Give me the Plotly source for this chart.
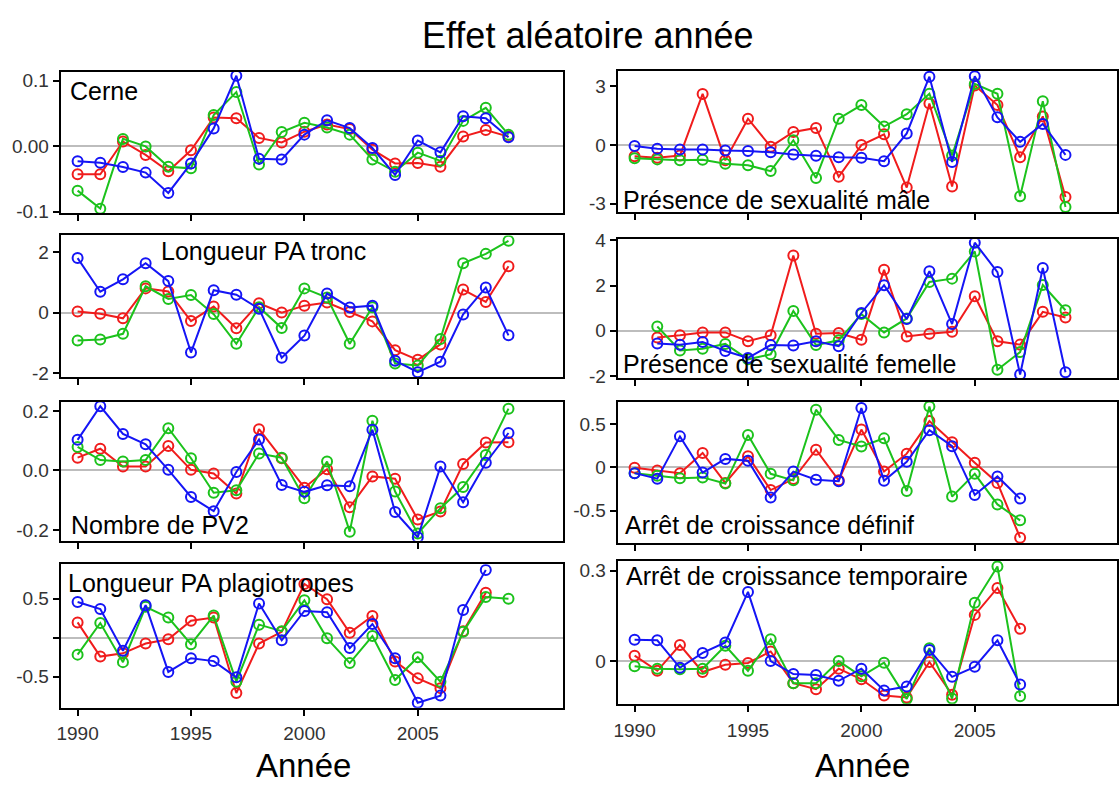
import plotly.graph_objects as go
from plotly.subplots import make_subplots

# figure size in px
W, H = 1119, 787

years = list(range(1990, 2010))

# Cerne
cerne_r = [-0.043, -0.043, 0.007, -0.0135, -0.0385, -0.0065, 0.0435, 0.0425, 0.0125, 0.0055,
           0.022, 0.033, 0.026, -0.0055, -0.0265, -0.026, -0.0315, 0.0145, 0.0245, 0.0145]
cerne_g = [-0.068, -0.0955, 0.011, -0.0005, -0.0315, -0.034, 0.0475, 0.0825, -0.028, 0.0215,
           0.0355, 0.0285, 0.0175, -0.0205, -0.039, -0.010, -0.0225, 0.0385, 0.0585, 0.0175]
cerne_b = [-0.023, -0.0255, -0.032, -0.0405, -0.0715, -0.0265, 0.027, 0.1075, -0.0195, -0.0205,
           0.0175, 0.0395, 0.0275, -0.003, -0.044, 0.0085, -0.0095, 0.0455, 0.0425, 0.0135]

# Présence de sexualité mâle
male_r = [-0.57, -0.65, -0.53, 2.62, -0.78, 1.35, -0.08, 0.67, 0.88, -1.62,
          0.0, 0.55, -2.17, 2.13, -2.12, 3.05, 2.05, -0.62, 1.47, -2.65]
male_g = [-0.67, -0.73, -0.77, -0.75, -0.95, -1.03, -1.33, 0.25, -1.68, 1.35,
          2.05, 0.95, 1.58, 2.63, -0.53, 3.13, 2.63, -2.62, 2.25, -3.17]
male_b = [-0.05, -0.18, -0.22, -0.22, -0.28, -0.3, -0.37, -0.48, -0.55, -0.62,
          -0.65, -0.82, 0.6, 3.5, -0.87, 3.53, 1.42, 0.17, 1.08, -0.5]

# Longueur PA tronc
tronc_r = [0.04, -0.04, -0.19, 0.8, 0.7, -0.28, 0.2, -0.52, 0.31, 0.0,
           0.23, 0.33, 0.02, -0.29, -1.24, -1.56, -1.05, 0.76, 0.35, 1.53]
tronc_g = [-0.92, -0.89, -0.7, 0.87, 0.45, 0.58, -0.05, -1.03, 0.18, -0.51,
           0.8, 0.5, -1.03, 0.18, -1.68, -1.75, -0.87, 1.63, 1.94, 2.37]
tronc_b = [1.8, 0.69, 1.1, 1.63, 1.04, -1.32, 0.74, 0.59, 0.13, -1.49,
           -0.76, 0.63, 0.17, 0.23, -1.59, -1.97, -1.62, -0.06, 0.83, -0.75]

# Présence de sexualité femelle
femelle_r = [None, -0.29, -0.2, -0.07, -0.07, -0.46, -0.2, 3.33, -0.13, -0.1,
             -0.39, 2.7, -0.25, -0.13, -0.04, 1.53, -0.46, -0.61, 0.84, 0.59]
femelle_g = [None, 0.19, -0.87, -0.79, -0.58, -1.26, -1.04, 0.88, -0.63, -0.42,
             0.74, -0.07, 0.55, 2.16, 2.31, 3.51, -1.72, -0.94, 2.03, 0.91]
femelle_b = [None, -0.56, -0.62, -0.49, -0.89, -1.2, -0.63, -0.65, -0.46, -0.68,
             0.79, 2.02, 0.52, 2.64, 0.3, 3.9, 2.6, -1.93, 2.78, -1.83]

# Nombre de PV2
pv2_r = [0.043, 0.073, 0.013, 0.013, 0.082, 0.002, -0.01, -0.078, 0.139, 0.041,
         -0.058, 0.004, -0.124, -0.02, -0.028, -0.165, -0.138, 0.022, 0.094, 0.095]
pv2_g = [0.079, 0.035, 0.03, 0.035, 0.142, 0.041, -0.075, -0.067, 0.057, 0.043,
         -0.094, 0.03, -0.206, 0.167, -0.071, -0.212, -0.127, -0.056, 0.052, 0.208]
pv2_b = [0.103, 0.216, 0.123, 0.088, 0.002, -0.089, -0.137, -0.005, 0.104, -0.049,
         -0.072, -0.05, -0.053, 0.137, -0.14, -0.225, 0.013, -0.107, 0.026, 0.126]

# Arrêt de croissance définif
definif_r = [-0.004, -0.037, -0.067, 0.165, -0.18, 0.127, -0.262, -0.135, 0.202, -0.15,
             0.434, -0.049, 0.157, 0.532, 0.288, 0.052, -0.18, -0.809, None, None]
definif_g = [-0.067, -0.097, -0.127, -0.116, -0.187, 0.371, -0.075, -0.15, 0.663, 0.315,
             0.24, 0.333, -0.273, 0.7, -0.337, -0.075, -0.427, -0.61, None, None]
definif_b = [-0.067, -0.131, 0.356, -0.06, 0.097, 0.075, -0.348, -0.049, -0.142, -0.161,
             0.682, -0.154, 0.064, 0.427, 0.243, -0.318, -0.105, -0.36, None, None]

# Longueur PA plagiotropes
plagio_r = [0.196, -0.242, -0.2, -0.075, -0.021, 0.217, 0.258, -0.708, -0.075, 0.075,
            0.688, 0.492, 0.063, 0.279, -0.304, -0.521, -0.646, 0.083, 0.575, None]
plagio_g = [-0.217, 0.188, -0.313, 0.396, 0.258, -0.083, 0.283, -0.563, 0.167, 0.083,
            0.479, -0.008, -0.325, 0.021, -0.542, -0.25, -0.563, 0.075, 0.521, 0.5]
plagio_b = [0.458, 0.367, -0.167, 0.417, -0.438, -0.263, -0.3, -0.508, 0.438, -0.033,
            0.342, 0.325, -0.133, 0.175, -0.263, -0.833, -0.742, 0.354, 0.867, None]

# Arrêt de croissance temporaire
temp_r = [0.019, -0.031, 0.054, -0.035, -0.011, -0.005, 0.033, -0.072, -0.092, -0.024,
          -0.059, -0.113, -0.119, -0.002, -0.11, 0.154, 0.243, 0.108, None, None]
temp_g = [-0.016, -0.024, -0.026, -0.024, 0.052, -0.031, 0.073, -0.072, -0.072, 0.001,
          -0.049, -0.004, -0.124, 0.044, -0.123, 0.194, 0.314, -0.115, None, None]
temp_b = [0.072, 0.07, -0.021, 0.028, 0.063, 0.23, 0.001, -0.042, -0.045, -0.064,
          -0.024, -0.096, -0.083, 0.038, -0.051, -0.018, 0.07, -0.076, None, None]

xticks = [1990, 1995, 2000, 2005]

# label, series, y range, y ticks, y tick text, box (left, top, right, bottom px), label pos (x, y px, anchor)
panels = [
    ("Cerne", (cerne_r, cerne_g, cerne_b), [-0.1025, 0.1134], [-0.1, 0, 0.1], ["-0.1", "0.00", "0.1"],
     (57, 64.3, 562, 209), (64, 84, "left")),
    ("Présence de sexualité mâle", (male_r, male_g, male_b), [-3.42, 3.8], [-3, 0, 3], ["-3", "0", "3"],
     (617, 63.3, 1119, 207.7), (620, 195, "left")),
    ("Longueur PA tronc", (tronc_r, tronc_g, tronc_b), [-2.13, 2.55], [-2, 0, 2], ["-2", "0", "2"],
     (57, 231.7, 562, 376.7), (261, 248, "center")),
    ("Présence de sexualité femelle", (femelle_r, femelle_g, femelle_b), [-2.09, 4.05], [-2, 0, 2, 4],
     ["-2", "0", "2", "4"], (617, 235.7, 1119, 377.7), (620, 363, "left")),
    ("Nombre de PV2", (pv2_r, pv2_g, pv2_b), [-0.237, 0.232], [-0.2, 0, 0.2], ["-0.2", "0.0", "0.2"],
     (57, 401.7, 562, 544.3), (65, 528, "left")),
    ("Arrêt de croissance définif", (definif_r, definif_g, definif_b), [-0.873, 0.757], [-0.5, 0, 0.5],
     ["-0.5", "0", "0.5"], (617, 401.7, 1119, 546.7), (622, 528, "left")),
    ("Longueur PA plagiotropes", (plagio_r, plagio_g, plagio_b), [-0.896, 0.94], [-0.5, 0, 0.5],
     ["-0.5", "", "0.5"], (57, 568.3, 562, 715), (62, 587, "left")),
    ("Arrêt de croissance temporaire", (temp_r, temp_g, temp_b), [-0.140, 0.332], [0, 0.3], ["0", "0.3"],
     (617, 565, 1119, 711), (623, 580, "left")),
]

colors = ["#f01c1c", "#1cc21c", "#1515f5"]
FONT = "Liberation Sans, Arial, sans-serif"
PX_PER_YEAR = 22.8
# screen x of the 1990 tick in each column
X1990 = {1: 74, 2: 634}


def px_x(v):
    return v / W


def px_y(v):
    return 1 - v / H


fig = make_subplots(rows=4, cols=2)

annots = []
for i, (label, series, yr, yt, ytt, box, lab) in enumerate(panels):
    row, col = i // 2 + 1, i % 2 + 1
    for ys, c in zip(series, colors):
        fig.add_trace(go.Scatter(x=years, y=ys, mode="lines+markers",
                                 line=dict(color=c, width=2),
                                 marker=dict(symbol="circle-open", size=10, color=c,
                                             line=dict(width=2, color=c)),
                                 showlegend=False, hoverinfo="x+y"), row=row, col=col)
    l, t, r, b = box
    xname = "xaxis" if i == 0 else "xaxis%d" % (i + 1)
    yname = "yaxis" if i == 0 else "yaxis%d" % (i + 1)
    x0 = 1990 - (X1990[col] - l) / PX_PER_YEAR
    xr = [x0, x0 + (r - l) / PX_PER_YEAR]
    fig.layout[xname].update(domain=[px_x(l), min(px_x(r), 1)], range=xr,
                             tickvals=xticks, ticks="outside", ticklen=6, tickwidth=1.5,
                             tickcolor="black", showticklabels=(row == 4), ticklabelstandoff=2,
                             tickfont=dict(size=19, color="#333333", family=FONT),
                             showline=True, linecolor="black", linewidth=2, mirror=True,
                             showgrid=False, zeroline=False)
    fig.layout[yname].update(domain=[px_y(b), px_y(t)], range=yr,
                             tickvals=yt, ticktext=ytt, ticks="outside", ticklen=6, tickwidth=1.5,
                             tickcolor="black", tickfont=dict(size=19, color="#333333", family=FONT),
                             showline=True, linecolor="black", linewidth=2, mirror=True,
                             showgrid=False, zeroline=True, zerolinecolor="#bdbdbd", zerolinewidth=2)
    annots.append(dict(text=label, xref="paper", yref="paper", x=px_x(lab[0]), y=px_y(lab[1]),
                       xanchor=lab[2], yanchor="middle", showarrow=False,
                       font=dict(size=25, color="black", family=FONT)))

# title and x axis titles
annots.append(dict(text="Effet aléatoire année", xref="paper", yref="paper", x=px_x(587), y=px_y(27),
                   xanchor="center", yanchor="middle", showarrow=False,
                   font=dict(size=36, color="black", family=FONT)))
for cx in (301, 863):
    annots.append(dict(text="Année", xref="paper", yref="paper", x=px_x(cx), y=px_y(774),
                       xanchor="center", yanchor="middle", showarrow=False,
                       font=dict(size=33, color="black", family=FONT)))

fig.update_layout(width=W, height=H, margin=dict(l=0, r=0, t=0, b=0),
                  plot_bgcolor="white", paper_bgcolor="white",
                  font=dict(family=FONT), annotations=annots)

# drop the default page margin so the figure fills the window exactly
fig.write_html("out.html", config={"displayModeBar": False},
               post_script="document.body.style.margin = '0px';")
